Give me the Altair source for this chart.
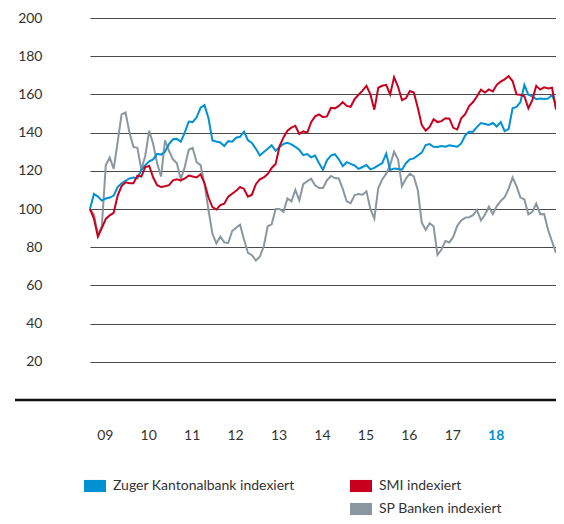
import altair as alt
import pandas as pd

# ---- data (index values) ----
START_YEAR = 2009.16      # first observation, fractional year
STEP = 1 / 11             # spacing between observations, in years

zkb = [
    100, 107.9, 106.5, 104.4, 105.5, 106, 107, 111.5, 113.5, 114.8,
    116, 116.5, 116, 120.5, 123, 125, 126, 128.9, 128.5, 130,
    134, 136.5, 136.7, 135.2, 140, 145.8, 145.5, 148, 153, 154.4,
    147.5, 135.9, 135.3, 134.8, 133, 135.5, 135.2, 137.3, 137.8, 140.5,
    136, 134.6, 131.5, 128, 129.8, 131.5, 133.4, 130.5, 132.5, 134.1,
    134.6, 133.8, 132.5, 131, 128.2, 128.8, 127.1, 128, 124, 120.5,
    125.5, 128, 128.7, 126, 122.5, 124.5, 123.6, 122.8, 121, 122,
    123, 120.8, 121.5, 122.8, 124, 129, 120.5, 121.2, 121, 120.6,
    124, 126, 126.5, 128, 129.5, 133.5, 134, 132.6, 132.5, 133,
    132.6, 133.3, 133, 132.6, 134.3, 138.5, 140.5, 140.5, 143, 145,
    144.5, 144, 145, 143.2, 145.5, 140.8, 141.8, 152.7, 153.5, 156,
    165, 159.8, 159, 157.5, 157.8, 157.6, 157.8, 159.8, 154.5,
]
smi = [
    100, 95, 85.5, 90, 94.8, 96.7, 98, 107, 112, 114,
    113.5, 113.5, 117.5, 117, 122, 122.5, 116.5, 112.5, 111.5, 111.9,
    112.5, 115, 115.5, 115, 116, 117.5, 117, 116.5, 118.2, 113.5,
    106, 101, 99.7, 102, 102.8, 106.5, 108, 109.5, 111.5, 110.5,
    106.5, 107.5, 113, 115.5, 116.5, 118.3, 121.5, 123.6, 133, 137.5,
    141, 142.6, 143.6, 139.3, 140.7, 139.9, 145.5, 148.5, 149.5, 148.1,
    148.5, 153, 152.7, 154, 156, 154, 153.5, 157.5, 159.8, 162,
    164.5, 160, 152, 163.5, 164.5, 165, 160, 169, 164, 157,
    158, 161.8, 161, 153, 144, 141, 143, 147, 145.5, 146,
    147.5, 147.3, 142.5, 141.7, 147.5, 149.7, 153.9, 156, 159, 162.5,
    161, 162.6, 161.5, 165, 166.7, 167.9, 169.6, 167, 160, 159.8,
    159, 152.7, 157, 164.5, 162.5, 163.7, 163.1, 163.5, 152,
]
sp_banken = [
    100, 97, 86.5, 91, 123, 127, 121, 135, 149.5, 150.5,
    140, 132.5, 132, 120.5, 128, 141, 134, 124, 117, 136,
    130.5, 126, 124, 115.5, 122, 131, 132, 124.5, 123, 113,
    99.5, 87, 82, 85.5, 82.5, 82.2, 88.5, 90.2, 91.8, 84,
    77, 75.8, 73, 75, 80.5, 91, 92, 100, 100, 98.5,
    105.5, 104, 110, 104.5, 113, 114.5, 115.9, 112.4, 111, 111,
    115, 117.3, 116.2, 116, 110.5, 104, 103, 107.3, 107.8, 107.5,
    109.3, 100, 95, 111, 115.5, 118.5, 123, 130, 126, 112,
    116, 118.5, 117, 110, 93, 89, 92.5, 91, 76, 78.8,
    83.3, 82.5, 85.5, 91.2, 94, 95.5, 95.7, 96.8, 99.5, 94,
    97, 101.2, 97.3, 101.5, 104.2, 106.2, 110.5, 116.5, 112, 106,
    105, 97.2, 98.5, 102.8, 97.3, 97.4, 89, 83, 77,
]

series_names = ["Zuger Kantonalbank indexiert", "SMI indexiert", "SP Banken indexiert"]
series_values = [zkb, smi, sp_banken]
series_colors = ["#0091d2", "#c8001e", "#8a979f"]

year_ticks = [2009.5 + k for k in range(10)]   # one label per year, 09 ... 18
y_ticks = [20, 40, 60, 80, 100, 120, 140, 160, 180, 200]

# legend laid out column by column: blue / (empty) | red / grey
legend_domain = [series_names[0], " ", series_names[1], series_names[2]]
legend_range = [series_colors[0], "#ffffff", series_colors[1], series_colors[2]]

rows = []
for name, vals in zip(series_names, series_values):
    for i, v in enumerate(vals):
        rows.append({"Serie": name, "Jahr": START_YEAR + i * STEP, "Index": v})
df = pd.DataFrame(rows)

FONT = "Lato"
TXT = "#333333"
W, H = 466, 382

x_enc = alt.X(
    "Jahr:Q",
    scale=alt.Scale(domain=[START_YEAR, START_YEAR + (len(zkb) - 1) * STEP], nice=False, zero=False),
    axis=alt.Axis(
        values=year_ticks,
        labelExpr="slice(toString(floor(datum.value)), 2)",
        title=None, grid=False, domain=False, ticks=False,
        labelPadding=28, labelFont=FONT, labelFontSize=14, labelFlush=False,
        labelColor=alt.condition("floor(datum.value) == 2018", alt.value(series_colors[0]), alt.value(TXT)),
        labelFontWeight=alt.condition("floor(datum.value) == 2018", alt.value("bold"), alt.value("normal")),
    ),
)
y_enc = alt.Y(
    "Index:Q",
    scale=alt.Scale(domain=[0, 200], nice=False),
    axis=alt.Axis(
        values=y_ticks, title=None, grid=True, gridColor="#4a4a4a", gridWidth=1,
        domain=False, ticks=False, labelPadding=48,
        labelFont=FONT, labelFontSize=14, labelColor=TXT,
    ),
)

layers = []
for idx in [2, 0, 1]:
    sub = df[df["Serie"] == series_names[idx]]
    layers.append(
        alt.Chart(sub).mark_line(color=series_colors[idx], strokeWidth=2).encode(x=x_enc, y=y_enc)
    )

baseline = alt.Chart(pd.DataFrame({"v": [0]})).mark_rule(color="#111111", strokeWidth=2.5).encode(
    y=alt.datum(0), x=alt.value(-75), x2=alt.value(W)
)

legend_layer = alt.Chart(df).mark_square(opacity=1, filled=True).encode(
    fill=alt.Fill(
        "Serie:N",
        scale=alt.Scale(domain=legend_domain, range=legend_range),
        legend=alt.Legend(
            title=None, orient="none", legendX=-6, legendY=457, columns=2,
            symbolType="M-1,-0.55H1V0.55H-1Z", symbolSize=484, symbolStrokeWidth=0,
            symbolOpacity=1, labelFont=FONT, labelFontSize=14, labelColor=TXT,
            labelLimit=400, labelOffset=7, rowPadding=5, columnPadding=55, padding=0,
        ),
    )
).transform_filter("false")

chart = alt.layer(*layers, baseline, legend_layer).properties(
    width=W, height=H,
    autosize=alt.AutoSizeParams(type="none"),
    padding={"left": 82, "top": 10, "right": 0, "bottom": 116},
).configure_view(stroke=None)

chart.save("out.html", embed_options={"renderer": "svg", "actions": False})
